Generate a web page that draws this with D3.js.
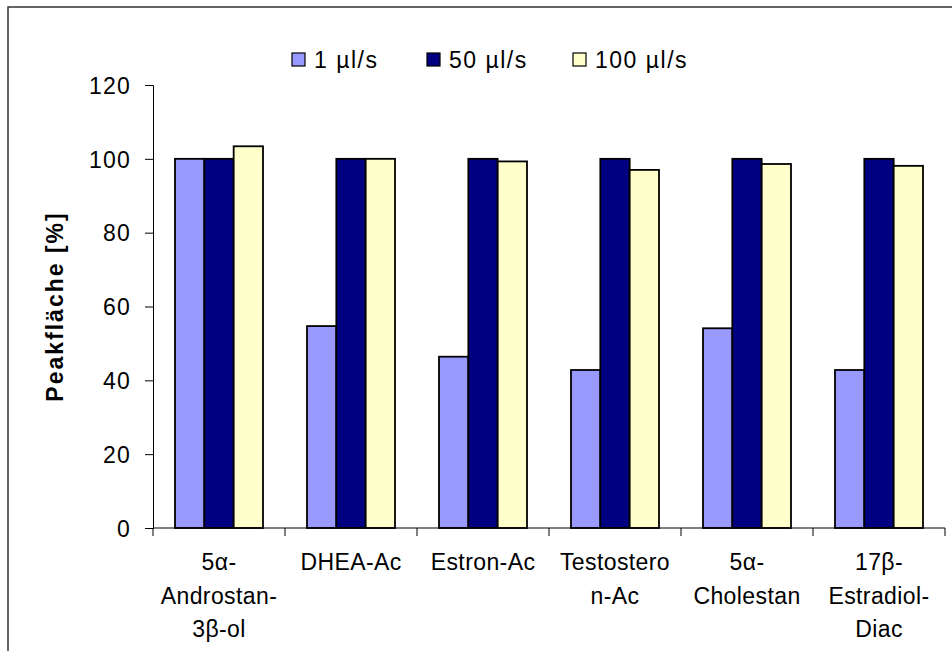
<!DOCTYPE html>
<html>
<head>
<meta charset="utf-8">
<script src="https://cdn.jsdelivr.net/npm/d3@7"></script>
<style>
  body { margin: 0; background: #fff; }
  svg text { font-family: Arial, "Liberation Sans", sans-serif; fill: #000; }
</style>
</head>
<body>
<div id="chart"></div>
<script>
// data
var categories = ["5α-\nAndrostan-\n3β-ol", "DHEA-Ac", "Estron-Ac", "Testostero\nn-Ac", "5α-\nCholestan", "17β-\nEstradiol-\nDiac"];
var seriesNames = ["1 µl/s", "50 µl/s", "100 µl/s"];
var flow1 = [100, 54.7, 46.4, 42.8, 54.1, 42.8];
var flow50 = [100, 100, 100, 100, 100, 100];
var flow100 = [103.4, 100, 99.3, 97, 98.6, 98.1];
var yTicks = [0, 20, 40, 60, 80, 100, 120];
var colors = ["#9999ff", "#000080", "#ffffcc"];

var series = [flow1, flow50, flow100];

var W = 952, H = 651;
var margin = {top: 85, right: 7, bottom: 123, left: 153};
var width = W - margin.left - margin.right,
    height = H - margin.top - margin.bottom;

var svg = d3.select("#chart").append("svg")
    .attr("width", W)
    .attr("height", H);

// outer frame (runs off the right and bottom edge)
svg.append("rect")
    .attr("x", 8).attr("y", 7)
    .attr("width", W + 20).attr("height", H + 20)
    .attr("fill", "none")
    .attr("stroke", "#333")
    .attr("stroke-width", 1.5);

var g = svg.append("g").attr("transform", "translate(" + margin.left + "," + margin.top + ")");

var x0 = d3.scaleBand().domain(d3.range(categories.length)).range([0, width]).paddingInner(0);
var x1 = d3.scaleBand().domain(d3.range(series.length)).range([0, x0.bandwidth()]).paddingOuter(0.75).paddingInner(0);
var y = d3.scaleLinear().domain([0, 120]).range([height, 0]);

// bars
var groups = g.selectAll(".grp")
    .data(categories)
    .enter().append("g")
    .attr("class", "grp")
    .attr("transform", function(d, i) { return "translate(" + x0(i) + ",0)"; });

groups.selectAll("rect")
    .data(function(d, i) { return series.map(function(s, j) { return {s: j, v: s[i]}; }); })
    .enter().append("rect")
    .attr("x", function(d) { return x1(d.s); })
    .attr("y", function(d) { return y(d.v); })
    .attr("width", x1.bandwidth())
    .attr("height", function(d) { return height - y(d.v); })
    .attr("fill", function(d) { return colors[d.s]; })
    .attr("stroke", "#000")
    .attr("stroke-width", 1.8);

// y axis
var yAxis = g.append("g")
    .call(d3.axisLeft(y).tickValues(yTicks).tickSize(8).tickPadding(14));
yAxis.select(".domain").attr("stroke", "#000").attr("stroke-width", 1);
yAxis.selectAll(".tick line").attr("stroke", "#000");
yAxis.selectAll("text")
    .style("font-size", "23px")
    .attr("letter-spacing", "1.2px")
    .attr("dy", "0.36em");

// x axis: ticks at category boundaries
g.append("line")
    .attr("x1", 0).attr("x2", width)
    .attr("y1", height).attr("y2", height)
    .attr("stroke", "#000");

g.selectAll(".xtick")
    .data(d3.range(categories.length + 1))
    .enter().append("line")
    .attr("x1", function(i) { return i * x0.step(); })
    .attr("x2", function(i) { return i * x0.step(); })
    .attr("y1", height).attr("y2", height + 8)
    .attr("stroke", "#000");

var xl = g.selectAll(".xlab")
    .data(categories)
    .enter().append("text")
    .attr("class", "xlab")
    .attr("text-anchor", "middle")
    .style("font-size", "23px")
    .attr("letter-spacing", "0.4px")
    .attr("transform", function(d, i) { return "translate(" + (x0(i) + x0.bandwidth() / 2) + "," + (height + 42) + ")"; });

xl.selectAll("tspan")
    .data(function(d) { return d.split("\n"); })
    .enter().append("tspan")
    .attr("x", 0)
    .attr("y", function(d, i) { return i * 33.5; })
    .text(function(d) { return d; });

// y label
svg.append("text")
    .attr("transform", "translate(63," + (margin.top + y(60)) + ") rotate(-90)")
    .attr("text-anchor", "middle")
    .style("font-size", "23px")
    .style("font-weight", "bold")
    .attr("letter-spacing", "2px")
    .text("Peakfläche [%]");

// legend
var legendX = [292, 427, 573];
var leg = svg.selectAll(".leg")
    .data(seriesNames)
    .enter().append("g")
    .attr("class", "leg")
    .attr("transform", function(d, i) { return "translate(" + legendX[i] + ",53)"; });

leg.append("rect")
    .attr("width", 13).attr("height", 13)
    .attr("fill", function(d, i) { return colors[i]; })
    .attr("stroke", "#000")
    .attr("stroke-width", 1.2);

leg.append("text")
    .attr("x", 22)
    .attr("y", 15)
    .style("font-size", "23px")
    .attr("letter-spacing", "1.5px")
    .text(function(d) { return d; });
</script>
</body>
</html>
